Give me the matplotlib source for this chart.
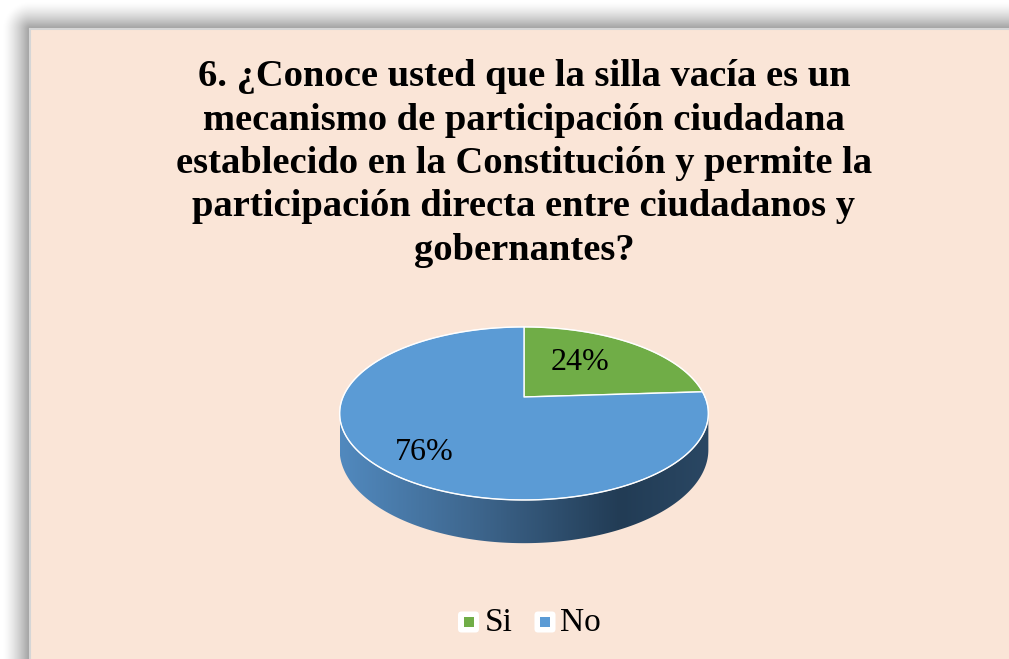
import numpy as np
import matplotlib
matplotlib.use("Agg")
import matplotlib.pyplot as plt
from matplotlib.patches import Polygon, FancyBboxPatch, Rectangle
from matplotlib.colors import LinearSegmentedColormap

# ---- data ----
categories = ["Si", "No"]
values = [24, 76]
labels = ["24%", "76%"]
colors = ["#70AD47", "#5B9BD5"]
title_lines = [
    "6. ¿Conoce usted que la silla vacía es un",
    "mecanismo de participación ciudadana",
    "establecido en la Constitución y permite la",
    "participación directa entre ciudadanos y",
    "gobernantes?",
]

W, H = 1009, 659
fig = plt.figure(figsize=(W / 100, H / 100), dpi=100)
ax = fig.add_axes([0, 0, 1, 1])
ax.set_xlim(0, W)
ax.set_ylim(H, 0)
ax.axis("off")

# ---- shadow / frame ----
px0, py0 = 30, 29
yy, xx = np.mgrid[0:H, 0:W] + 0.5
dx = np.clip(px0 - xx, 0, None)
dy = np.clip(py0 - yy, 0, None)
dist = np.hypot(dx, dy)
f = np.clip(1 - dist / 27.0, 0, 1) ** 1.4
g = (255 - 97 * f) / 255.0
img = np.dstack([g, g, g])
ax.imshow(img, extent=(0, W, H, 0), zorder=0, interpolation="bilinear", aspect="auto")
bg = "#FAE5D7"
ax.add_patch(Rectangle((px0, py0), W - px0 + 5, H - py0 + 5, facecolor=bg, edgecolor="none", zorder=1))
ax.plot([px0, px0], [py0, H], color="#D6D6D6", lw=1.5, zorder=2)
ax.plot([px0, W], [py0, py0], color="#D6D6D6", lw=1.5, zorder=2)

# ---- title ----
title_baselines = [86, 129.5, 173, 216.5, 260]
for line, y in zip(title_lines, title_baselines):
    ax.text(524, y, line, ha="center", va="baseline", fontsize=27.7, fontweight="bold",
            family="Liberation Serif", color="black", zorder=5)

# ---- 3D perspective pie ----
cx, cy = 524, 397
A, B, k = 83.4, 181.0, 0.19
depth = 35.0


def proj(theta_deg, z=0.0):
    t = np.radians(theta_deg)
    d = np.sin(t)
    s = 1.0 / (1.0 + k * d)
    x = cx + B * np.cos(t) * s
    y = cy - A * d * s + z * depth * s
    return x, y


# side wall (visible front part)
kdeg = np.degrees(np.arcsin(k))
th = np.linspace(180 + kdeg, 360 - kdeg, 300)
xt, yt = proj(th, 0)
xb, yb = proj(th[::-1], 1)
wall = Polygon(np.column_stack([np.r_[xt, xb], np.r_[yt, yb]]), closed=True,
               facecolor="none", edgecolor="none", zorder=3)
ax.add_patch(wall)
grad_cmap = LinearSegmentedColormap.from_list(
    "wall", [(0.0, "#5189BE"), (0.35, "#3F6890"), (0.76, "#223C55"), (1.0, "#2A4763")])
xmin, xmax = xt.min(), xt.max()
gimg = np.linspace(0, 1, 400)[None, :]
im = ax.imshow(gimg, cmap=grad_cmap, extent=(xmin, xmax, yb.max() + 2, yt.min() - 2),
               aspect="auto", zorder=3, interpolation="bilinear")
im.set_clip_path(wall)

# top face slices
total = float(sum(values))
start = 90.0
label_pos = [(580, 363), (424, 452)]
for val, col, lab, lp in zip(values, colors, labels, label_pos):
    span = 360.0 * val / total
    ang = np.linspace(start, start - span, max(int(span * 2), 10))
    x, y = proj(ang, 0)
    poly = np.column_stack([np.r_[cx, x], np.r_[cy, y]])
    ax.add_patch(Polygon(poly, closed=True, facecolor=col, edgecolor="white",
                         lw=1.0, joinstyle="round", zorder=4))
    ax.text(lp[0], lp[1], lab, ha="center", va="center", fontsize=23,
            family="Liberation Serif", color="black", zorder=6)
    start -= span

# outline glow of top ellipse
ang = np.linspace(0, 360, 720)
x, y = proj(ang, 0)
ax.plot(x, y, color="white", lw=0.8, alpha=0.8, zorder=4.5)

# ---- legend ----
leg_items = [(468.5, 622, 485), (545, 622, 560)]
for (mx, my, tx), cat, col in zip(leg_items, categories, colors):
    ax.add_patch(FancyBboxPatch((mx - 8, my - 8), 16, 16,
                                boxstyle="round,pad=2.5,rounding_size=3.5",
                                facecolor="white", edgecolor="none", zorder=5))
    ax.add_patch(Rectangle((mx - 5, my - 5), 10, 10, facecolor=col, edgecolor="none", zorder=6))
    ax.text(tx, my + 1, cat, ha="left", va="center", fontsize=24,
            family="Liberation Serif", color="black", zorder=6)

fig.savefig("out.png", dpi=100, facecolor="white")
